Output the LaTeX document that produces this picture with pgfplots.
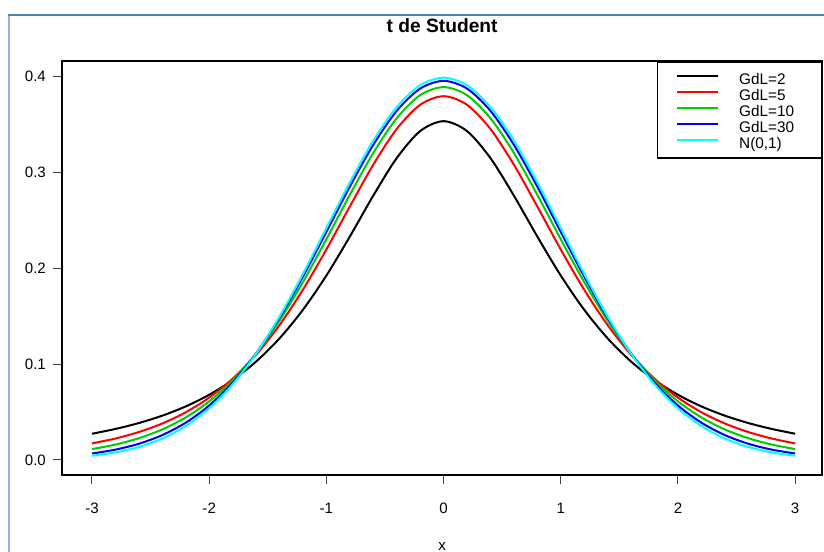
\documentclass[border=0pt]{standalone}
\usepackage{fontspec}
\setmainfont{Liberation Sans}
\usepackage{pgfplots}
\usepackage{pgfplotstable}
\pgfplotsset{compat=1.18}
\definecolor{frametop}{HTML}{4F81BD}
\definecolor{frameleft}{HTML}{8EB4E3}
\definecolor{rgreen}{HTML}{00CD00}
\definecolor{rcyan}{HTML}{00FFFF}

% densidades t de Student y normal, x de -3 a 3
\pgfplotstableread{
x     t2       t5       t10      t30      n
-3.0  0.027410 0.017293 0.011402 0.006777 0.004432
-2.8  0.032397 0.022415 0.016126 0.010825 0.007915
-2.6  0.038569 0.029176 0.022734 0.016958 0.013583
-2.4  0.046262 0.038090 0.031888 0.025995 0.022395
-2.2  0.055899 0.049804 0.044380 0.038945 0.035475
-2.0  0.068041 0.065091 0.061145 0.056851 0.053991
-1.8  0.083368 0.084812 0.083117 0.080710 0.078950
-1.6  0.102696 0.109819 0.111078 0.111190 0.110921
-1.4  0.126897 0.140740 0.145391 0.148341 0.149727
-1.2  0.156737 0.177659 0.185668 0.191292 0.194186
-1.0  0.192450 0.219680 0.230355 0.237990 0.241971
-0.8  0.233126 0.264488 0.276624 0.285226 0.289692
-0.6  0.275829 0.308141 0.320325 0.328846 0.333225
-0.4  0.315007 0.345378 0.356578 0.364322 0.368270
-0.2  0.343206 0.370641 0.380658 0.387545 0.391043
 0.0  0.353553 0.379607 0.389108 0.395632 0.398942
 0.2  0.343206 0.370641 0.380658 0.387545 0.391043
 0.4  0.315007 0.345378 0.356578 0.364322 0.368270
 0.6  0.275829 0.308141 0.320325 0.328846 0.333225
 0.8  0.233126 0.264488 0.276624 0.285226 0.289692
 1.0  0.192450 0.219680 0.230355 0.237990 0.241971
 1.2  0.156737 0.177659 0.185668 0.191292 0.194186
 1.4  0.126897 0.140740 0.145391 0.148341 0.149727
 1.6  0.102696 0.109819 0.111078 0.111190 0.110921
 1.8  0.083368 0.084812 0.083117 0.080710 0.078950
 2.0  0.068041 0.065091 0.061145 0.056851 0.053991
 2.2  0.055899 0.049804 0.044380 0.038945 0.035475
 2.4  0.046262 0.038090 0.031888 0.025995 0.022395
 2.6  0.038569 0.029176 0.022734 0.016958 0.013583
 2.8  0.032397 0.022415 0.016126 0.010825 0.007915
 3.0  0.027410 0.017293 0.011402 0.006777 0.004432
}\dens

\begin{document}
\begin{tikzpicture}[x=0.75pt,y=0.75pt]
\useasboundingbox (0,0) rectangle (824,552);
\draw[frameleft, line width=1.5pt] (9,537) -- (9,-10);
\draw[frametop, line width=1.5pt] (8.4,537) -- (830,537);
\begin{axis}[
  at={(53,80)}, anchor=south west,
  scale only axis, width=570pt, height=310.5pt,
  xmin=-3.255, xmax=3.23, ymin=-0.016, ymax=0.416,
  axis line style={line width=1.5pt},
  xtick={-3,-2,-1,0,1,2,3}, xticklabels={-3,-2,-1,0,1,2,3},
  ytick={0,0.1,0.2,0.3,0.4}, yticklabels={0.0,0.1,0.2,0.3,0.4},
  xtick pos=lower, ytick pos=left,
  tick align=outside, major tick length=6.75pt,
  tick style={black!75, line width=0.75pt},
  ticklabel style={font=\fontsize{11.3}{13}\selectfont, inner sep=0pt},
  xticklabel style={anchor=north, yshift=-13.9pt},
  yticklabel style={anchor=east, xshift=-5.25pt},
  title={\textbf{t de Student}},
  title style={at={(axis description cs:0.5,1.067)}, anchor=center, inner sep=0pt, font=\fontsize{14.4}{16}\selectfont},
  xlabel={x},
  xlabel style={at={(axis description cs:0.5,-0.1715)}, anchor=center, inner sep=0pt, font=\fontsize{11.3}{13}\selectfont},
  legend style={at={(1,1)}, anchor=north east, draw=black, line width=0.9pt,
    inner xsep=14pt, inner ysep=6pt, row sep=0pt,
    font=\fontsize{11.5}{12}\selectfont,
    nodes={inner sep=0pt, text height=11pt, text depth=1pt}},
  legend cell align=left,
  legend image code/.code={\draw[#1] (0pt,1.35pt) -- (30.75pt,1.35pt); \path (45.75pt,0pt);},
]
\addplot[black, line width=1.5pt, smooth] table[x=x,y=t2] {\dens};
\addplot[red, line width=1.5pt, smooth] table[x=x,y=t5] {\dens};
\addplot[rgreen, line width=1.5pt, smooth] table[x=x,y=t10] {\dens};
\addplot[blue, line width=1.5pt, smooth] table[x=x,y=t30] {\dens};
\addplot[rcyan, line width=1.5pt, smooth] table[x=x,y=n] {\dens};
\addlegendentry{\makebox[47.75pt][l]{GdL=2}}
\addlegendentry{\makebox[47.75pt][l]{GdL=5}}
\addlegendentry{\makebox[47.75pt][l]{GdL=10}}
\addlegendentry{\makebox[47.75pt][l]{GdL=30}}
\addlegendentry{\makebox[47.75pt][l]{N(0,1)}}
\end{axis}
\end{tikzpicture}
\end{document}
